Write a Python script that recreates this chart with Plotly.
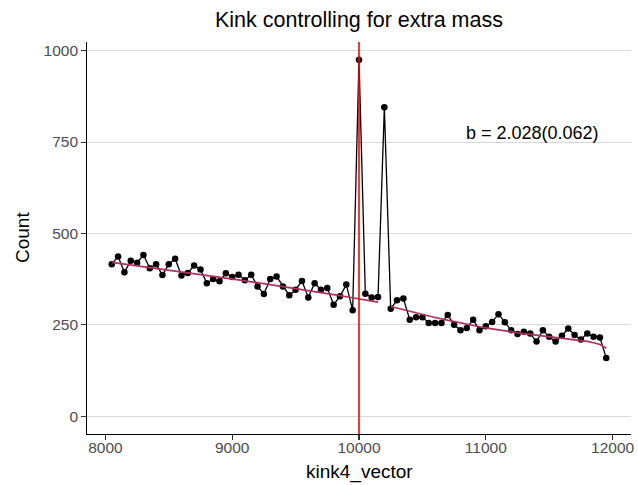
import plotly.graph_objects as go

# ---- data ----
x_vals = list(range(8050, 12000, 50))
counts = [416, 437, 394, 425, 420, 441, 405, 416, 386, 416,
          431, 385, 392, 412, 401, 364, 375, 369, 391, 381,
          387, 372, 387, 355, 334, 375, 382, 355, 331, 346,
          370, 325, 364, 346, 351, 305, 328, 360, 290,
          975, 335, 325, 326, 845, 294, 317, 322, 264, 271,
          271, 255, 255, 255, 277, 250, 235, 241, 264, 235,
          246, 258, 279, 257, 235, 225, 231, 226, 204, 235,
          217, 204, 220, 240, 222, 210, 226, 217, 215, 159]
fit_vals = [421.0, 418.7, 416.4, 414.1, 411.8, 409.5, 407.2, 404.9, 402.5, 400.1,
            397.7, 395.3, 392.9, 390.5, 388.0, 385.5, 383.0, 380.5, 378.0, 375.5,
            373.0, 370.4, 367.8, 365.2, 362.6, 360.0, 357.3, 354.6, 351.9, 349.2,
            346.5, 343.7, 340.9, 338.1, 335.3, 332.5, 329.6, 326.7, 323.8,
            320.9, 318.0, 315.0, 312.0, None, 300.0, 295.5, 291.1, 286.8, 282.5,
            278.3, 274.2, 270.1, 266.1, 262.3, 258.6, 255.0, 251.5, 248.1, 244.8,
            241.6, 238.6, 235.8, 233.1, 230.6, 228.3, 226.1, 224.0, 222.0, 220.1,
            218.2, 216.3, 214.3, 212.2, 210.0, 207.5, 204.6, 201.0, 196.0, 186.0]
kink = 10000
x_ticks = [8000, 9000, 10000, 11000, 12000]
y_ticks = [0, 250, 500, 750, 1000]
title_text = "Kink controlling for extra mass"
x_title = "kink4_vector"
y_title = "Count"
label_text = "b = 2.028(0.062)"

FONT = "Liberation Sans, Arial, Helvetica, sans-serif"

fig = go.Figure()
fig.add_trace(go.Scatter(x=x_vals, y=counts, mode="lines+markers",
                         line=dict(color="black", width=1.3),
                         marker=dict(color="black", size=6.5),
                         showlegend=False, hoverinfo="skip"))
fig.add_trace(go.Scatter(x=x_vals, y=fit_vals, mode="lines",
                         line=dict(color="#B03060", width=1.7),
                         connectgaps=False,
                         showlegend=False, hoverinfo="skip"))
fig.add_shape(type="line", xref="x", yref="paper", x0=kink, x1=kink, y0=0, y1=1,
              line=dict(color="red", width=1.6), layer="above")

fig.add_annotation(x=11365, y=775, xref="x", yref="y", text=label_text,
                   showarrow=False, font=dict(family=FONT, size=18, color="black"),
                   xanchor="center", yanchor="middle")
# axis titles
fig.add_annotation(x=0.5, y=0, xref="paper", yref="paper", text=x_title,
                   showarrow=False, font=dict(family=FONT, size=19, color="black"),
                   xanchor="center", yanchor="middle", yshift=-38)
fig.add_annotation(x=0, y=0.5, xref="paper", yref="paper", text=y_title,
                   textangle=-90, showarrow=False,
                   font=dict(family=FONT, size=19, color="black"),
                   xanchor="center", yanchor="middle", xshift=-65)

fig.update_layout(
    width=638, height=485,
    paper_bgcolor="white", plot_bgcolor="white",
    margin=dict(l=87.3, r=7, t=41.7, b=50.7, autoexpand=False),
    font=dict(family=FONT, color="black"),
    title=dict(text=title_text, x=0.5, xref="paper", xanchor="center",
               y=1 - 19 / 485, yref="container", yanchor="middle",
               font=dict(family=FONT, size=21.5, color="black")),
    showlegend=False,
)
fig.update_xaxes(range=[7855, 12145], tickvals=x_ticks,
                 ticktext=[str(v) for v in x_ticks],
                 showgrid=False, zeroline=False, automargin=False,
                 showline=True, linecolor="black", linewidth=1.3,
                 ticks="outside", ticklen=4.5, tickcolor="#333333", tickwidth=1.1,
                 ticklabelstandoff=-5,
                 tickfont=dict(family=FONT, size=15.5, color="#4D4D4D"))
fig.update_yaxes(range=[-48.75, 1023.75], tickvals=y_ticks,
                 ticktext=[str(v) for v in y_ticks],
                 showgrid=True, gridcolor="#D9D9D9", gridwidth=1.1,
                 zeroline=False, automargin=False,
                 showline=True, linecolor="black", linewidth=1.3,
                 ticks="outside", ticklen=4.5, tickcolor="#333333", tickwidth=1.1,
                 tickfont=dict(family=FONT, size=15.5, color="#4D4D4D"))

fig.write_html("out.html",
               config={"displayModeBar": False, "staticPlot": True},
               post_script="document.body.style.margin='0';document.body.style.padding='0';")
